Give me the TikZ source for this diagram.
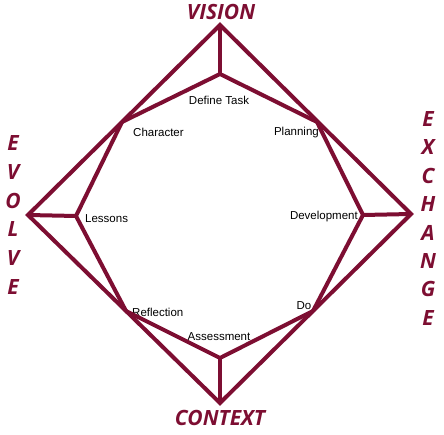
\documentclass[tikz,border=0pt]{standalone}
\usepackage{fontspec}
\setmainfont{Liberation Sans}
\newfontfamily\headfont{Open Sans}
\definecolor{wine}{RGB}{125,14,50}
\begin{document}
\begin{tikzpicture}[x=1pt,y=-1pt,
  edge/.style={draw=wine, line width=4pt, line join=miter},
  lbl/.style={font=\fontsize{11.5}{13}\selectfont, text=black, inner sep=0pt},
  head/.style={font=\headfont\bfseries\itshape\fontsize{21}{23}\selectfont, text=wine, inner sep=0pt}]
\useasboundingbox (0,0) rectangle (444,435);
\fill[white] (0,0) rectangle (444,435);
% vertices
\coordinate (T) at (220,25);
\coordinate (R) at (411,214);
\coordinate (B) at (220,403);
\coordinate (L) at (28,215);
\coordinate (ti) at (220,74);
\coordinate (ch) at (122,122);
\coordinate (pl) at (317,122);
\coordinate (le) at (76,216);
\coordinate (de) at (363,215);
\coordinate (re) at (126,311);
\coordinate (do) at (313,311);
\coordinate (as) at (220,358);
% labels
\node[lbl] (dt) at (219,100) {Define Task};
\node[lbl, anchor=west] (chl) at (133,132) {Character};
\node[lbl, anchor=east] (pll) at (319,133) {Planning};
\node[lbl, anchor=west] (lel) at (85,219) {Lessons};
\node[lbl, anchor=east] (del) at (358,217) {Development};
\node[lbl] (dol) at (304,306) {Do};
\node[lbl, anchor=west] (rel) at (132,312) {Reflection};
\node[lbl] (asl) at (219,337) {Assessment};
% lines
\draw[edge] (T) -- (R) -- (B) -- (L) -- cycle;
\draw[edge] (T) -- (ti);
\draw[edge] (ch) -- (ti) -- (pl);
\draw[edge] (L) -- (le);
\draw[edge] (ch) -- (le) -- (re);
\draw[edge] (R) -- (de);
\draw[edge] (pl) -- (de) -- (do);
\draw[edge] (B) -- (as);
\draw[edge] (re) -- (as) -- (do);
% headings
\node[head] (vision) at (221,12) {VISION};
\node[head] (context) at (220,418) {CONTEXT};
\foreach \c [count=\i] in {E,V,O,L,V,E}
  \node[head] (ev\i) at (13,{143+28.8*(\i-1)}) {\c};
\foreach \c [count=\i] in {E,X,C,H,A,N,G,E}
  \node[head] (ex\i) at (428,{119+28.4*(\i-1)}) {\c};
\end{tikzpicture}
\end{document}
